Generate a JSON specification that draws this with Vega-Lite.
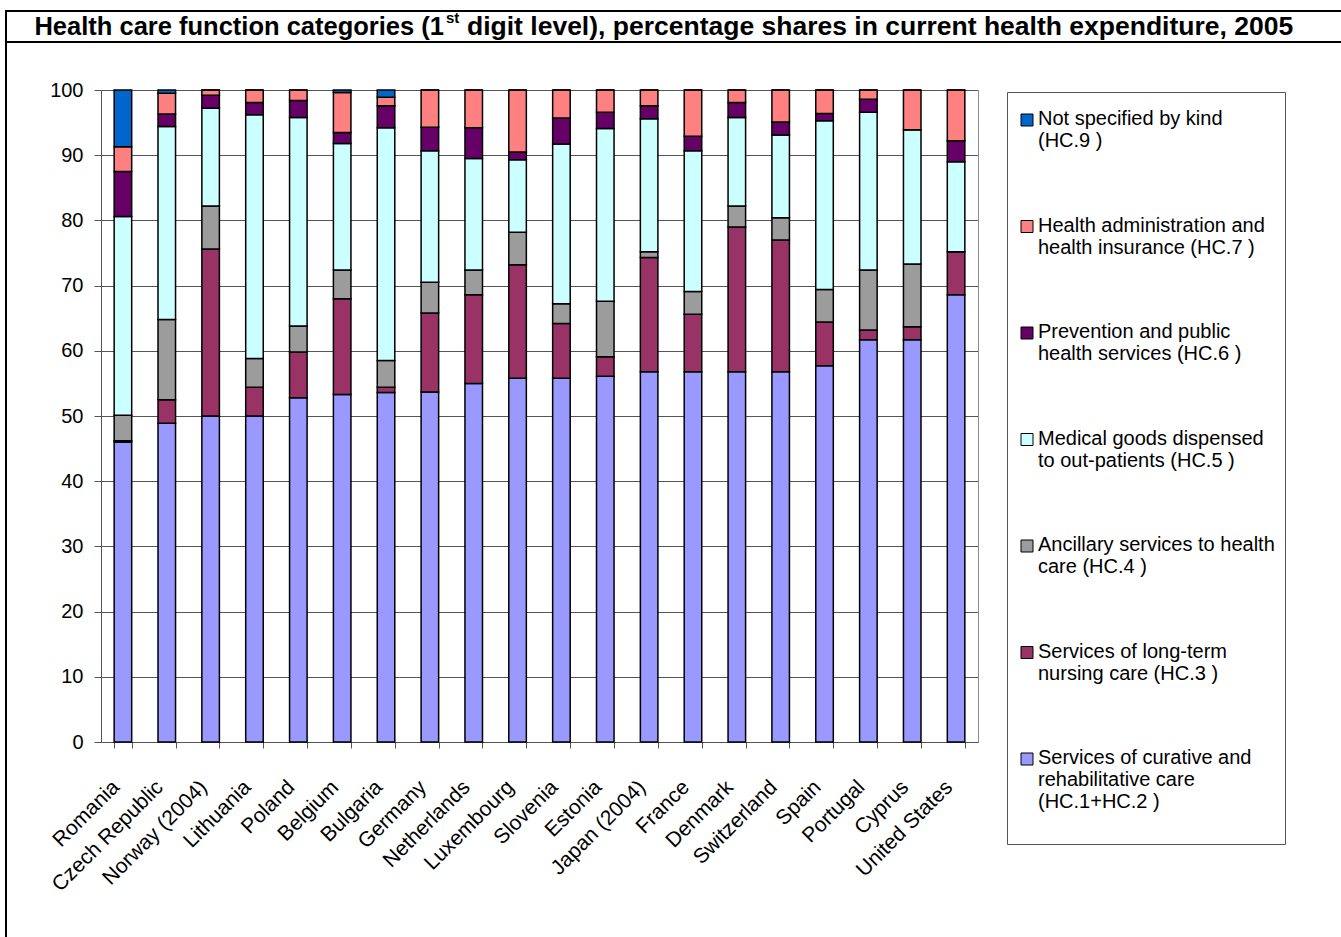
{
  "$schema": "https://vega.github.io/schema/vega-lite/v6.json",
  "padding": {"left": 5, "top": 9, "right": 0, "bottom": 0},
  "background": "white",
  "spacing": 0,
  "bounds": "flush",
  "config": {"font": "Liberation Sans", "view": {"stroke": null}},
  "vconcat": [
    {
      "width": 1340,
      "height": 31,
      "view": {"stroke": "black", "strokeWidth": 2},
      "data": {"values": [{"t": 1}]},
      "layer": [
        {"mark": {"type": "text", "text": "Health care function categories (1", "align": "right", "baseline": "alphabetic", "dx": -232, "dy": 8, "fontSize": 25.5, "fontWeight": "bold", "color": "black"}},
        {"mark": {"type": "text", "text": "st", "align": "left", "baseline": "alphabetic", "dx": -230, "dy": -4, "fontSize": 15, "fontWeight": "bold", "color": "black"}},
        {"mark": {"type": "text", "text": "digit level), percentage shares in current health expenditure, 2005", "align": "left", "baseline": "alphabetic", "dx": -209, "dy": 8, "fontSize": 26.5, "fontWeight": "bold", "color": "black"}}
      ]
    },
    {
      "width": 1340,
      "height": 900,
      "view": {"stroke": "black", "strokeWidth": 2},
      "data": {"values": [
        {"country": "Romania", "HC1_2": 46.0, "HC3": 0.2, "HC4": 3.9, "HC5": 30.5, "HC6": 6.9, "HC7": 3.8, "HC9": 8.7},
        {"country": "Czech Republic", "HC1_2": 48.9, "HC3": 3.6, "HC4": 12.3, "HC5": 29.6, "HC6": 1.9, "HC7": 3.2, "HC9": 0.5},
        {"country": "Norway (2004)", "HC1_2": 50.0, "HC3": 25.6, "HC4": 6.6, "HC5": 15.0, "HC6": 2.0, "HC7": 0.8, "HC9": 0},
        {"country": "Lithuania", "HC1_2": 50.0, "HC3": 4.4, "HC4": 4.4, "HC5": 37.4, "HC6": 1.9, "HC7": 1.9, "HC9": 0},
        {"country": "Poland", "HC1_2": 52.8, "HC3": 7.0, "HC4": 4.0, "HC5": 32.0, "HC6": 2.6, "HC7": 1.6, "HC9": 0},
        {"country": "Belgium", "HC1_2": 53.3, "HC3": 14.7, "HC4": 4.4, "HC5": 19.4, "HC6": 1.7, "HC7": 6.1, "HC9": 0.4},
        {"country": "Bulgaria", "HC1_2": 53.6, "HC3": 0.8, "HC4": 4.1, "HC5": 35.7, "HC6": 3.4, "HC7": 1.3, "HC9": 1.1},
        {"country": "Germany", "HC1_2": 53.7, "HC3": 12.1, "HC4": 4.7, "HC5": 20.2, "HC6": 3.6, "HC7": 5.7, "HC9": 0},
        {"country": "Netherlands", "HC1_2": 55.0, "HC3": 13.6, "HC4": 3.8, "HC5": 17.1, "HC6": 4.7, "HC7": 5.8, "HC9": 0},
        {"country": "Luxembourg", "HC1_2": 55.8, "HC3": 17.4, "HC4": 5.0, "HC5": 11.1, "HC6": 1.2, "HC7": 9.5, "HC9": 0},
        {"country": "Slovenia", "HC1_2": 55.8, "HC3": 8.4, "HC4": 3.0, "HC5": 24.5, "HC6": 4.0, "HC7": 4.3, "HC9": 0},
        {"country": "Estonia", "HC1_2": 56.1, "HC3": 3.0, "HC4": 8.5, "HC5": 26.5, "HC6": 2.5, "HC7": 3.4, "HC9": 0},
        {"country": "Japan (2004)", "HC1_2": 56.8, "HC3": 17.5, "HC4": 0.9, "HC5": 20.4, "HC6": 2.0, "HC7": 2.4, "HC9": 0},
        {"country": "France", "HC1_2": 56.8, "HC3": 8.8, "HC4": 3.5, "HC5": 21.6, "HC6": 2.2, "HC7": 7.1, "HC9": 0},
        {"country": "Denmark", "HC1_2": 56.8, "HC3": 22.2, "HC4": 3.2, "HC5": 13.6, "HC6": 2.3, "HC7": 1.9, "HC9": 0},
        {"country": "Switzerland", "HC1_2": 56.8, "HC3": 20.2, "HC4": 3.4, "HC5": 12.7, "HC6": 2.0, "HC7": 4.9, "HC9": 0},
        {"country": "Spain", "HC1_2": 57.7, "HC3": 6.7, "HC4": 5.0, "HC5": 25.9, "HC6": 1.1, "HC7": 3.6, "HC9": 0},
        {"country": "Portugal", "HC1_2": 61.7, "HC3": 1.5, "HC4": 9.2, "HC5": 24.2, "HC6": 2.0, "HC7": 1.4, "HC9": 0},
        {"country": "Cyprus", "HC1_2": 61.7, "HC3": 2.0, "HC4": 9.6, "HC5": 20.6, "HC6": 0, "HC7": 6.1, "HC9": 0},
        {"country": "United States", "HC1_2": 68.6, "HC3": 6.6, "HC4": 0, "HC5": 13.8, "HC6": 3.2, "HC7": 7.8, "HC9": 0}
      ]},
      "transform": [
        {"fold": ["HC1_2", "HC3", "HC4", "HC5", "HC6", "HC7", "HC9"], "as": ["key", "value"]}
      ],
      "layer": [
        {
          "mark": {"type": "bar", "stroke": "black", "strokeWidth": 1.5},
          "encoding": {
            "x": {
              "field": "country", "type": "nominal", "sort": null, "title": null,
              "scale": {"range": [95, 972], "paddingInner": 0.6, "paddingOuter": 0.3},
              "axis": {"orient": "bottom", "offset": -200, "labelAngle": -45, "labelFontSize": 21, "labelColor": "black", "domainColor": "#555555", "tickColor": "#555555", "tickSize": 6, "tickBand": "extent", "labelPadding": 28, "labelOffset": -15, "grid": false}
            },
            "y": {
              "field": "value", "type": "quantitative", "stack": "zero", "title": null,
              "scale": {"domain": [0, 100], "range": [700, 48], "nice": false},
              "axis": {"orient": "left", "offset": -95, "values": [0, 10, 20, 30, 40, 50, 60, 70, 80, 90, 100], "labelFontSize": 20, "labelColor": "black", "tickSize": 7, "labelPadding": 11, "domainColor": "#555555", "tickColor": "#555555", "grid": true, "gridColor": "#555555", "gridWidth": 1, "gridOpacity": 1}
            },
            "color": {
              "field": "key", "type": "nominal",
              "scale": {
                "domain": ["HC9", "HC7", "HC6", "HC5", "HC4", "HC3", "HC1_2"],
                "range": ["#0066CC", "#FF8080", "#660066", "#CCFFFF", "#9C9C9C", "#993366", "#9999FF"]
              },
              "legend": {
                "title": " ", "titleFontSize": 2, "titlePadding": 6,
                "orient": "none", "legendX": 1001, "legendY": 81, "direction": "vertical",
                "symbolType": "square", "symbolSize": 144, "symbolStrokeColor": "black", "symbolStrokeWidth": 1,
                "labelFontSize": 20, "labelLimit": 400, "labelOffset": 1, "labelBaseline": "top", "labelLineHeight": 27,
                "labelColor": "black", "rowPadding": 64.5, "padding": 10, "strokeColor": "#555555", "fillColor": "white",
                "labelExpr": "datum.label == 'HC9' ? ['Not specified by kind', '(HC.9 )'] : datum.label == 'HC7' ? ['Health administration and', 'health insurance (HC.7 )'] : datum.label == 'HC6' ? ['Prevention and public', 'health services (HC.6 )'] : datum.label == 'HC5' ? ['Medical goods dispensed', 'to out-patients (HC.5 )'] : datum.label == 'HC4' ? ['Ancillary services to health', 'care (HC.4 )'] : datum.label == 'HC3' ? ['Services of long-term', 'nursing care (HC.3 )'] : ['Services of curative and', 'rehabilitative care', '(HC.1+HC.2 )', '']",
                "encode": {"labels": {"update": {"dy": {"value": -11}}}}
              }
            },
            "order": {"field": "key", "sort": "ascending"}
          }
        },
        {
          "mark": {"type": "bar", "opacity": 0},
          "encoding": {
            "x": {"field": "country", "type": "nominal", "sort": null, "title": null},
            "y": {
              "field": "value", "type": "quantitative", "stack": "zero", "title": null,
              "axis": {"orient": "right", "offset": -368, "labels": false, "ticks": false, "grid": false, "domainColor": "#8C8C8C"}
            }
          }
        }
      ],
      "resolve": {"axis": {"y": "independent"}}
    }
  ]
}
